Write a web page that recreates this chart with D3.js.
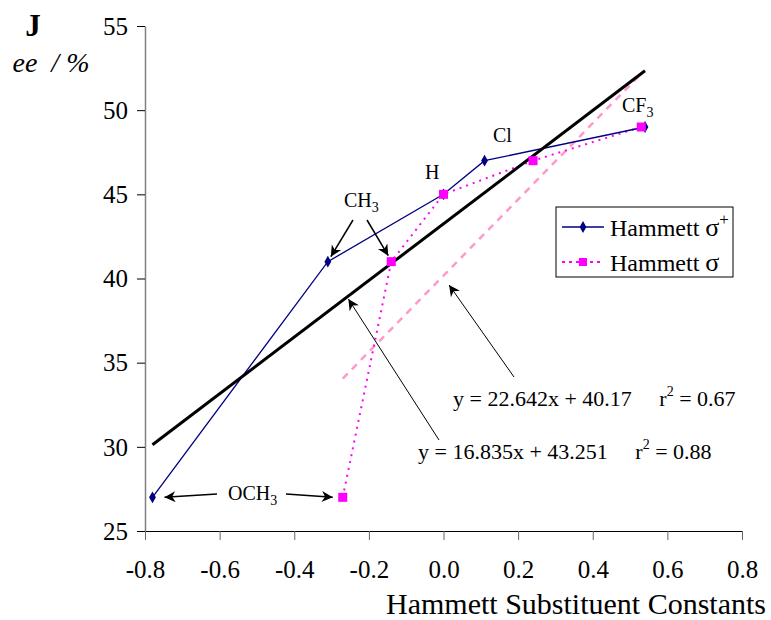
<!DOCTYPE html>
<html>
<head>
<meta charset="utf-8">
<script src="https://cdn.jsdelivr.net/npm/d3@7"></script>
<style>
  body { margin: 0; background: #fff; }
  text { font-family: "Liberation Serif", "Times New Roman", serif; }
</style>
</head>
<body>
<div id="root"></div>
<script>
// data
const substituents = ['OCH3', 'CH3', 'H', 'Cl', 'CF3'];
const sigmaPlus = [-0.78, -0.31, 0.0, 0.11, 0.54];
const sigma = [-0.27, -0.14, 0.0, 0.24, 0.53];
const ee = [27, 41, 45, 47, 49];
const xTicks = [-0.8, -0.6, -0.4, -0.2, 0.0, 0.2, 0.4, 0.6, 0.8];
const yTicks = [25, 30, 35, 40, 45, 50, 55];
const fitPlus = { slope: 16.835, icpt: 43.251, r2: '0.88', from: -0.78, to: 0.54 };
const fitSigma = { slope: 22.642, icpt: 40.17, r2: '0.67', from: -0.27, to: 0.53 };

const W = 771, H = 620;
const svg = d3.select('#root').append('svg').attr('width', W).attr('height', H);

const x = d3.scaleLinear().domain([-0.8, 0.8]).range([145, 742]);
const y = d3.scaleLinear().domain([25, 55]).range([531, 26]);

const defs = svg.append('defs');
defs.append('marker').attr('id', 'arr')
  .attr('viewBox', '0 0 10 10').attr('refX', 10).attr('refY', 5)
  .attr('markerWidth', 17).attr('markerHeight', 11).attr('markerUnits', 'userSpaceOnUse')
  .attr('orient', 'auto')
  .append('path').attr('d', 'M0,0 L10,5 L0,10 L3,5 Z').attr('fill', '#000');

// axes
const xAxis = svg.append('g').attr('transform', `translate(0,${y(25)})`)
  .call(d3.axisBottom(x).tickValues(xTicks).tickSize(9).tickSizeOuter(0));
xAxis.select('.domain').attr('stroke', '#000').attr('d', `M${x(-0.8) - 8},0.5H${x(0.8)}`);
xAxis.selectAll('.tick line').attr('stroke', '#666');
xAxis.selectAll('.tick text').attr('font-size', 25).attr('dy', 35).attr('fill', '#000')
  .text(d => d3.format('.1f')(d).replace('−', '-'));

const yAxis = svg.append('g').attr('transform', `translate(${x(-0.8)},0)`)
  .call(d3.axisLeft(y).tickValues(yTicks).tickSize(8).tickSizeOuter(0));
yAxis.select('.domain').attr('stroke', '#808080').attr('stroke-width', 1.5);
yAxis.selectAll('.tick line').attr('stroke', '#000');
yAxis.selectAll('.tick text').attr('font-size', 25).attr('x', -17).attr('dy', '0.33em').attr('fill', '#000');

// axis titles
svg.append('text').attr('x', 766).attr('y', 614).attr('text-anchor', 'end')
  .attr('font-size', 30).text('Hammett Substituent Constants');
svg.append('text').attr('x', 33).attr('y', 36).attr('text-anchor', 'middle')
  .attr('font-size', 31).attr('font-weight', 'bold').text('J');
svg.append('text').attr('x', 51).attr('y', 72).attr('text-anchor', 'middle')
  .attr('font-size', 28).attr('font-style', 'italic').attr('xml:space', 'preserve').text('ee  / %');

// trendlines
const fitLine = f => [[x(f.from), y(f.slope * f.from + f.icpt)], [x(f.to), y(f.slope * f.to + f.icpt)]];
svg.append('path').attr('d', d3.line()(fitLine(fitSigma)))
  .attr('stroke', '#ff99cc').attr('stroke-width', 2.5).attr('stroke-dasharray', '7,6').attr('fill', 'none');

// series σ (pink dotted)
const ptsSigma = sigma.map((s, i) => [x(s), y(ee[i])]);
svg.append('path').attr('d', d3.line()(ptsSigma))
  .attr('stroke', '#ff00ff').attr('stroke-width', 2).attr('stroke-dasharray', '2,5').attr('fill', 'none');

// series σ+ (navy)
const ptsPlus = sigmaPlus.map((s, i) => [x(s), y(ee[i])]);
svg.append('path').attr('d', d3.line()(ptsPlus))
  .attr('stroke', '#000080').attr('stroke-width', 1.3).attr('fill', 'none');

svg.append('path').attr('d', d3.line()(fitLine(fitPlus)))
  .attr('stroke', '#000').attr('stroke-width', 3).attr('fill', 'none');

svg.append('g').selectAll('path').data(ptsPlus).join('path')
  .attr('d', d3.symbol(d3.symbolDiamond, 40)())
  .attr('transform', d => `translate(${d[0]},${d[1]})`)
  .attr('fill', '#000080');
svg.append('g').selectAll('rect').data(ptsSigma).join('rect')
  .attr('x', d => d[0] - 4.5).attr('y', d => d[1] - 4.5)
  .attr('width', 9).attr('height', 9).attr('fill', '#ff00ff');

// substituent labels
const lab = (tx, ty, base, sub) => {
  const t = svg.append('text').attr('x', tx).attr('y', ty).attr('font-size', 20).text(base);
  if (sub) t.append('tspan').attr('font-size', 14).attr('dy', 5).text(sub);
};
lab(344, 207, 'CH', '3');
lab(425, 179, 'H');
lab(493, 142, 'Cl');
lab(622, 112, 'CF', '3');
lab(228, 500, 'OCH', '3');

const arrow = (x1, y1, x2, y2, w) => svg.append('line')
  .attr('x1', x1).attr('y1', y1).attr('x2', x2).attr('y2', y2)
  .attr('stroke', '#000').attr('stroke-width', w || 1.5).attr('marker-end', 'url(#arr)');
arrow(353, 220, x(sigmaPlus[1]) + 3, y(ee[1]) - 5);
arrow(367, 220, x(sigma[1]) - 3, y(ee[1]) - 6);
arrow(217, 494, x(sigmaPlus[0]) + 12, y(ee[0]));
arrow(286, 494, x(sigma[0]) - 10, y(ee[0]));

// equations
const eq = (tx, ty, f) => {
  const t = svg.append('text').attr('x', tx).attr('y', ty).attr('font-size', 22)
    .attr('xml:space', 'preserve');
  t.append('tspan').text(`y = ${f.slope}x + ${f.icpt}     r`);
  t.append('tspan').attr('font-size', 14).attr('dy', -10).text('2');
  t.append('tspan').attr('dy', 10).text(` = ${f.r2}`);
};
eq(453, 406, fitSigma);
eq(418, 459, fitPlus);
arrow(514, 377, x(0.015), 285, 1);
arrow(439, 440, x(-0.255), 299, 1);

// legend
const lg = svg.append('g').attr('transform', 'translate(556,207)');
lg.append('rect').attr('width', 177).attr('height', 70).attr('fill', '#fff').attr('stroke', '#000');
lg.append('line').attr('x1', 6).attr('x2', 48).attr('y1', 20).attr('y2', 20).attr('stroke', '#000080').attr('stroke-width', 1.3);
lg.append('path').attr('d', d3.symbol(d3.symbolDiamond, 40)()).attr('transform', 'translate(27,20)').attr('fill', '#000080');
lg.append('line').attr('x1', 6).attr('x2', 48).attr('y1', 55).attr('y2', 55).attr('stroke', '#ff00ff').attr('stroke-width', 2).attr('stroke-dasharray', '3,4');
lg.append('rect').attr('x', 23).attr('y', 51).attr('width', 8).attr('height', 8).attr('fill', '#ff00ff');
const lt1 = lg.append('text').attr('x', 54).attr('y', 29).attr('font-size', 24).text('Hammett ');
lt1.append('tspan').attr('font-size', 26).text('σ');
lt1.append('tspan').attr('font-size', 17).attr('dy', -11).text('+');
const lt2 = lg.append('text').attr('x', 54).attr('y', 64).attr('font-size', 24).text('Hammett ');
lt2.append('tspan').attr('font-size', 26).text('σ');
</script>
</body>
</html>
